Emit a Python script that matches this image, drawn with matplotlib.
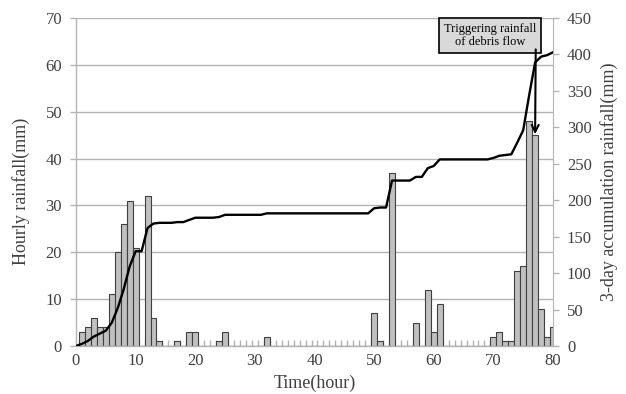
import numpy as np
import matplotlib.pyplot as plt

# hourly rainfall (mm) for hours 1..80, nonzero hours listed explicitly
hours = np.arange(1, 81)
rain_hours = [1, 2, 3, 4, 5, 6, 7, 8, 9, 10, 12, 13, 14, 17, 19, 20, 24, 25, 32,
              50, 51, 53, 57, 59, 60, 61, 70, 71, 72, 73, 74, 75, 76, 77, 78, 79, 80]
rain_vals = [3, 4, 6, 4, 4, 11, 20, 26, 31, 21, 32, 6, 1, 1, 3, 3, 1, 3, 2,
             7, 1, 37, 5, 12, 3, 9, 2, 3, 1, 1, 16, 17, 48, 45, 8, 2, 4]

hourly = np.zeros(80)
hourly[np.array(rain_hours) - 1] = rain_vals

# accumulated rainfall, starting from 0 at hour 0
acc_t = np.arange(0, 81)
acc = np.concatenate([[0], np.cumsum(hourly)])

plt.rcParams['font.family'] = ['Liberation Serif', 'DejaVu Serif']
grid_c = '#b3b3b3'
txt_c = '#404040'

fig = plt.figure(figsize=(6.26, 3.94), dpi=100)
ax = fig.add_axes([0.1214, 0.1218, 0.7620, 0.8325])

ax.bar(hours, hourly, width=1.0, color='#c0c0c0', edgecolor='#404040', linewidth=0.8, zorder=2)
ax.set_xlim(0, 80)
ax.set_ylim(0, 70)
ax.set_yticks(np.arange(0, 71, 10))
ax.set_xticks(np.arange(0, 81, 10))
ax.set_xticks(np.arange(0.5, 80, 1), minor=True)
ax.grid(axis='y', color=grid_c, linewidth=1.0, zorder=0)
ax.set_axisbelow(True)

ax.tick_params(axis='x', which='major', length=0, pad=5, labelsize=12, labelcolor=txt_c)
ax.tick_params(axis='x', which='minor', direction='in', length=4, color=grid_c, width=1)
ax.tick_params(axis='y', length=4, color=grid_c, width=1, labelsize=12, labelcolor=txt_c, pad=6)

for s in ['top', 'right']:
    ax.spines[s].set_visible(False)
for s in ['left', 'bottom']:
    ax.spines[s].set_color(grid_c)
    ax.spines[s].set_linewidth(1.0)

ax.set_xlabel('Time(hour)', fontsize=13, color=txt_c, labelpad=4)
ax.set_ylabel('Hourly rainfall(mm)', fontsize=13, color=txt_c)
ax.yaxis.set_label_coords(-0.097, 0.47)

# accumulated rainfall on the secondary axis
ax2 = ax.twinx()
ax2.plot(acc_t, acc, color='black', linewidth=1.7, zorder=3)
ax2.set_ylim(0, 450)
ax2.set_yticks(np.arange(0, 451, 50))
ax2.tick_params(axis='y', length=4, color=grid_c, width=1, labelsize=12, labelcolor=txt_c, pad=6)
for s in ['top', 'left', 'bottom']:
    ax2.spines[s].set_visible(False)
ax2.spines['right'].set_color(grid_c)
ax2.set_ylabel('3-day accumulation rainfall(mm)', fontsize=13, color=txt_c, labelpad=6)

# callout for the triggering rainfall
ax.text(69.4, 66.2, 'Triggering rainfall\nof debris flow', ha='center', va='center',
        fontsize=9, linespacing=1.1, zorder=5, clip_on=False,
        bbox=dict(boxstyle='square,pad=0.4', facecolor='#d9d9d9', edgecolor='black', linewidth=1.2))
ax.annotate('', xy=(77.0, 45.2), xytext=(77.1, 63.3), zorder=5, annotation_clip=False,
            arrowprops=dict(arrowstyle='->,head_length=0.5,head_width=0.25', color='black', lw=1.5,
                            shrinkA=0, shrinkB=0))

fig.savefig('out.png', dpi=100)
